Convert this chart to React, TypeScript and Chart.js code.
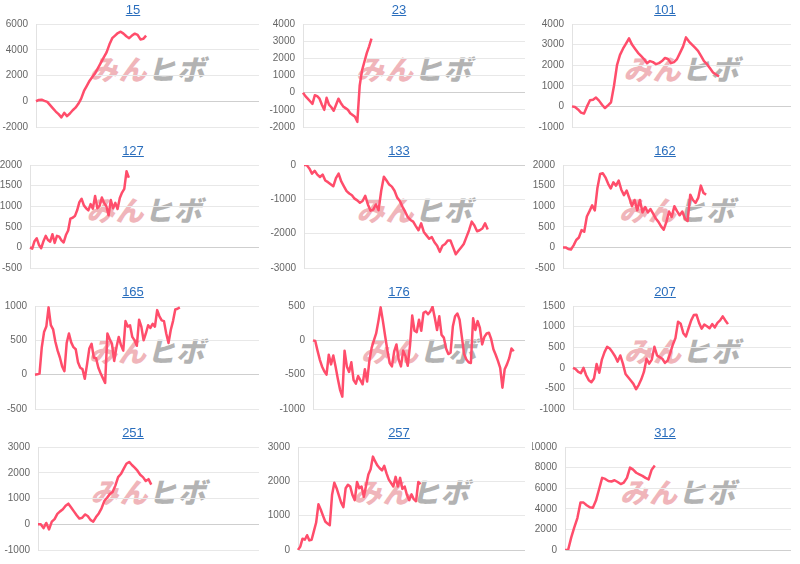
import React, { useEffect, useRef } from "react";
import { Chart, registerables } from "chart.js";

Chart.register(...registerables);

// ---------- data ----------
const TITLES = ["15", "23", "101", "127", "133", "162", "165", "176", "207", "251", "257", "312"];

const S15 = [0, 100, 120, 30, -50, -300, -550, -800, -1000, -1250, -900, -1150, -950, -700, -500, -200, 200, 800, 1200, 1600, 1900, 2200, 2600, 3000, 3400, 3800, 4400, 4900, 5100, 5300, 5400, 5250, 5050, 4900, 5100, 5250, 5150, 4800, 4850, 5100];
const S23 = [0, -200, -350, -500, -650, -150, -200, -350, -700, -1000, -300, -700, -850, -1050, -700, -350, -600, -800, -900, -1000, -1200, -1300, -1400, -1700, 400, 1300, 1800, 2300, 2700, 3150];
const S101 = [0, -30, -150, -300, -350, 0, 300, 320, 430, 280, 80, -80, 50, 200, 1000, 2000, 2500, 2800, 3050, 3300, 3000, 2800, 2600, 2450, 2300, 2100, 2200, 2150, 2050, 2100, 2200, 2350, 2300, 2100, 2150, 2300, 2600, 2900, 3350, 3150, 3000, 2850, 2700, 2450, 2200, 2050, 1850, 1650, 1550, 1450];
const S127 = [0, -30, 150, 220, 60, -20, 150, 280, 180, 140, 320, 110, 280, 260, 170, 120, 300, 410, 700, 720, 760, 900, 1100, 1180, 1020, 950, 900, 1050, 940, 1250, 950, 1010, 1210, 1080, 1000, 780, 1150, 950, 1080, 930, 1200, 1330, 1420, 1850, 1690];
const S133 = [0, 0, -100, -250, -170, -280, -350, -280, -450, -500, -560, -620, -380, -250, -480, -620, -760, -830, -880, -980, -1030, -1100, -1050, -900, -1150, -1330, -1300, -1150, -1320, -750, -340, -450, -570, -630, -750, -950, -1050, -1220, -1360, -1520, -1600, -1650, -1780, -1900, -1700, -1950, -2050, -2150, -2100, -2250, -2350, -2530, -2350, -2300, -2200, -2200, -2400, -2600, -2500, -2400, -2300, -2100, -1900, -1650, -1760, -1930, -1900, -1850, -1700, -1880];
const S162 = [0, 0, -40, -50, 50, 180, 240, 420, 380, 750, 880, 1020, 900, 1450, 1780, 1800, 1700, 1550, 1430, 1580, 1500, 1620, 1400, 1270, 1380, 1200, 1000, 1150, 900, 1150, 850, 980, 850, 930, 820, 700, 620, 510, 430, 620, 870, 740, 1000, 880, 780, 870, 700, 640, 1280, 1150, 1080, 1200, 1500, 1320, 1280];
const S165 = [0, 5, 15, 400, 620, 700, 980, 720, 660, 480, 350, 250, 120, 50, 460, 600, 470, 400, 370, 180, 100, 80, -60, 150, 380, 450, 250, 240, 100, 20, -50, -120, 600, 520, 450, 200, 400, 550, 430, 350, 780, 700, 720, 550, 500, 420, 800, 700, 500, 600, 720, 680, 740, 700, 940, 850, 790, 780, 600, 460, 650, 780, 950, 960, 980];
const S176 = [0, -10, -150, -280, -380, -450, -500, -210, -350, -220, -380, -560, -720, -820, -150, -380, -460, -320, -580, -630, -520, -580, -640, -420, -600, -300, -110, 0, 100, 280, 480, 280, 60, -150, -330, -380, -160, -60, -280, -380, -150, -230, -370, -80, 360, 140, 120, 300, 140, 400, 420, 380, 420, 490, 330, 150, 350, 80, 40, -120, -200, -180, 200, 350, 390, 300, 50, -200, -280, -320, -330, 320, 150, 280, 180, -60, 50, 100, 110, 20, -130, -210, -300, -400, -690, -420, -350, -260, -120, -160];
const S207 = [0, -30, -100, -130, 0, -180, -300, -350, -260, 90, -120, 200, 380, 510, 470, 380, 280, 150, 300, 100, -150, -230, -310, -390, -520, -420, -280, -100, 220, 100, 200, 510, 300, 260, 220, 120, 170, 350, 560, 720, 1120, 1070, 840, 760, 960, 1150, 1280, 1290, 1090, 950, 1050, 1010, 960, 1060, 980, 1090, 1150, 1250, 1150, 1060];
const S251 = [0, 0, -150, 50, -200, 100, 200, 400, 500, 580, 720, 800, 650, 500, 350, 220, 250, 380, 320, 170, 100, 280, 420, 620, 900, 1030, 1170, 1250, 1500, 1830, 1950, 2150, 2350, 2420, 2300, 2200, 2080, 1920, 1830, 1680, 1750, 1540];
const S257 = [0, 100, 330, 300, 430, 280, 300, 550, 800, 1330, 1180, 1000, 830, 770, 720, 1600, 1960, 1800, 1590, 1380, 1250, 1800, 1900, 1850, 1600, 1450, 1980, 1800, 1850, 1550, 1880, 2200, 2350, 2720, 2580, 2460, 2380, 2320, 2450, 2230, 2050, 1950, 1850, 2130, 1850, 2100, 1780, 1850, 1600, 1450, 1620, 1480, 1420, 1980, 1920];
const S312 = [0, 0, 1200, 2200, 3100, 4600, 4600, 4350, 4150, 4100, 4800, 5900, 7000, 6900, 6700, 6650, 6770, 6600, 6400, 6550, 7000, 8000, 7800, 7500, 7350, 7200, 7000, 6850, 7800, 8200];

const SERIES = [S15, S23, S101, S127, S133, S162, S165, S176, S207, S251, S257, S312];

// number of (unlabelled) x categories on each chart
const CATEGORY_COUNTS = [80, 95, 74, 103, 84, 87, 100, 95, 84, 81, 101, 74];

const Y_MIN = [-2000, -2000, -1000, -500, -3000, -500, -500, -1000, -1000, -1000, 0, 0];
const Y_MAX = [6000, 4000, 4000, 2000, 0, 2000, 1000, 500, 1500, 3000, 3000, 10000];
const Y_STEP = [2000, 1000, 1000, 500, 1000, 500, 500, 500, 500, 1000, 1000, 2000];

// ---------- layout / style ----------
const COL_X = [0, 266, 532];
const ROW_Y = [0, 141, 282, 423];
const PANEL_W = 266;
const PANEL_H = 141;
const PLOT_LEFT = [36, 303, 572, 30, 304, 563, 35, 313, 573, 38, 298, 565];
const PLOT_RIGHT_REL = 259;
const PLOT_TOP = 24;
const PLOT_BOTTOM = 128;
const LINE_COLOR = "#ff4d6b";
const FONT = "'Liberation Sans', Arial, Helvetica, sans-serif";

function Panel({ idx }: { idx: number }) {
  const ref = useRef<HTMLCanvasElement | null>(null);
  const col = idx % 3;
  const row = Math.floor(idx / 3);
  const x0 = COL_X[col];
  const y0 = ROW_Y[row];
  const yWidth = PLOT_LEFT[idx] - x0;
  const plotCenter = (yWidth + PLOT_RIGHT_REL) / 2;

  useEffect(() => {
    if (!ref.current) return;
    const labels = Array.from({ length: CATEGORY_COUNTS[idx] }, (_, i) => String(i + 1));
    const chart = new Chart(ref.current, {
      type: "line",
      data: {
        labels,
        datasets: [
          {
            data: SERIES[idx],
            borderColor: LINE_COLOR,
            backgroundColor: LINE_COLOR,
            borderWidth: 2.5,
            pointRadius: 0,
            tension: 0,
            fill: false,
            borderJoinStyle: "round",
          },
        ],
      },
      options: {
        responsive: false,
        animation: false,
        devicePixelRatio: 1,
        layout: {
          padding: { top: PLOT_TOP, bottom: PANEL_H - PLOT_BOTTOM, left: 0, right: PANEL_W - PLOT_RIGHT_REL },
        },
        plugins: {
          legend: { display: false },
          tooltip: { enabled: false },
          title: { display: false },
        },
        scales: {
          x: { display: false, offset: false },
          y: {
            min: Y_MIN[idx],
            max: Y_MAX[idx],
            ticks: {
              stepSize: Y_STEP[idx],
              color: "#666",
              padding: 8,
              font: { size: 10, family: FONT },
              callback: (v: any) => String(v),
            },
            grid: {
              drawTicks: false,
              color: (ctx: any) => (ctx.tick && ctx.tick.value === 0 ? "#cfcfcf" : "#e8e8e8"),
            },
            border: { color: "#e2e2e2" },
            afterFit: (s: any) => {
              s.width = yWidth;
            },
          },
        },
      },
    });
    return () => chart.destroy();
  }, [idx]);

  return (
    <div style={{ position: "absolute", left: x0, top: y0, width: PANEL_W, height: PANEL_H }}>
      <div
        style={{
          position: "absolute",
          left: plotCenter - 75,
          top: 54,
          width: 150,
          textAlign: "center",
          whiteSpace: "nowrap",
          fontFamily: "'Noto Sans CJK JP', sans-serif",
          fontWeight: 900,
          fontStyle: "italic",
          fontSize: 28,
          lineHeight: "28px",
          letterSpacing: 1,
          pointerEvents: "none",
        }}
      >
        <span style={{ color: "#f0b5ba" }}>みん</span>
        <span style={{ color: "#b3b3b3" }}>ヒボ</span>
      </div>
      <canvas ref={ref} width={PANEL_W} height={PANEL_H} style={{ position: "absolute", left: 0, top: 0 }} />
      <div
        style={{
          position: "absolute",
          left: 0,
          top: 2,
          width: PANEL_W,
          textAlign: "center",
          fontFamily: FONT,
          fontSize: 13,
          lineHeight: "15px",
          color: "#2a6ebd",
          textDecoration: "underline",
        }}
      >
        {TITLES[idx]}
      </div>
    </div>
  );
}

export default function App() {
  return (
    <div style={{ position: "absolute", left: 0, top: 0, width: 800, height: 564, background: "#fff", overflow: "hidden" }}>
      {TITLES.map((_, i) => (
        <Panel key={i} idx={i} />
      ))}
    </div>
  );
}
